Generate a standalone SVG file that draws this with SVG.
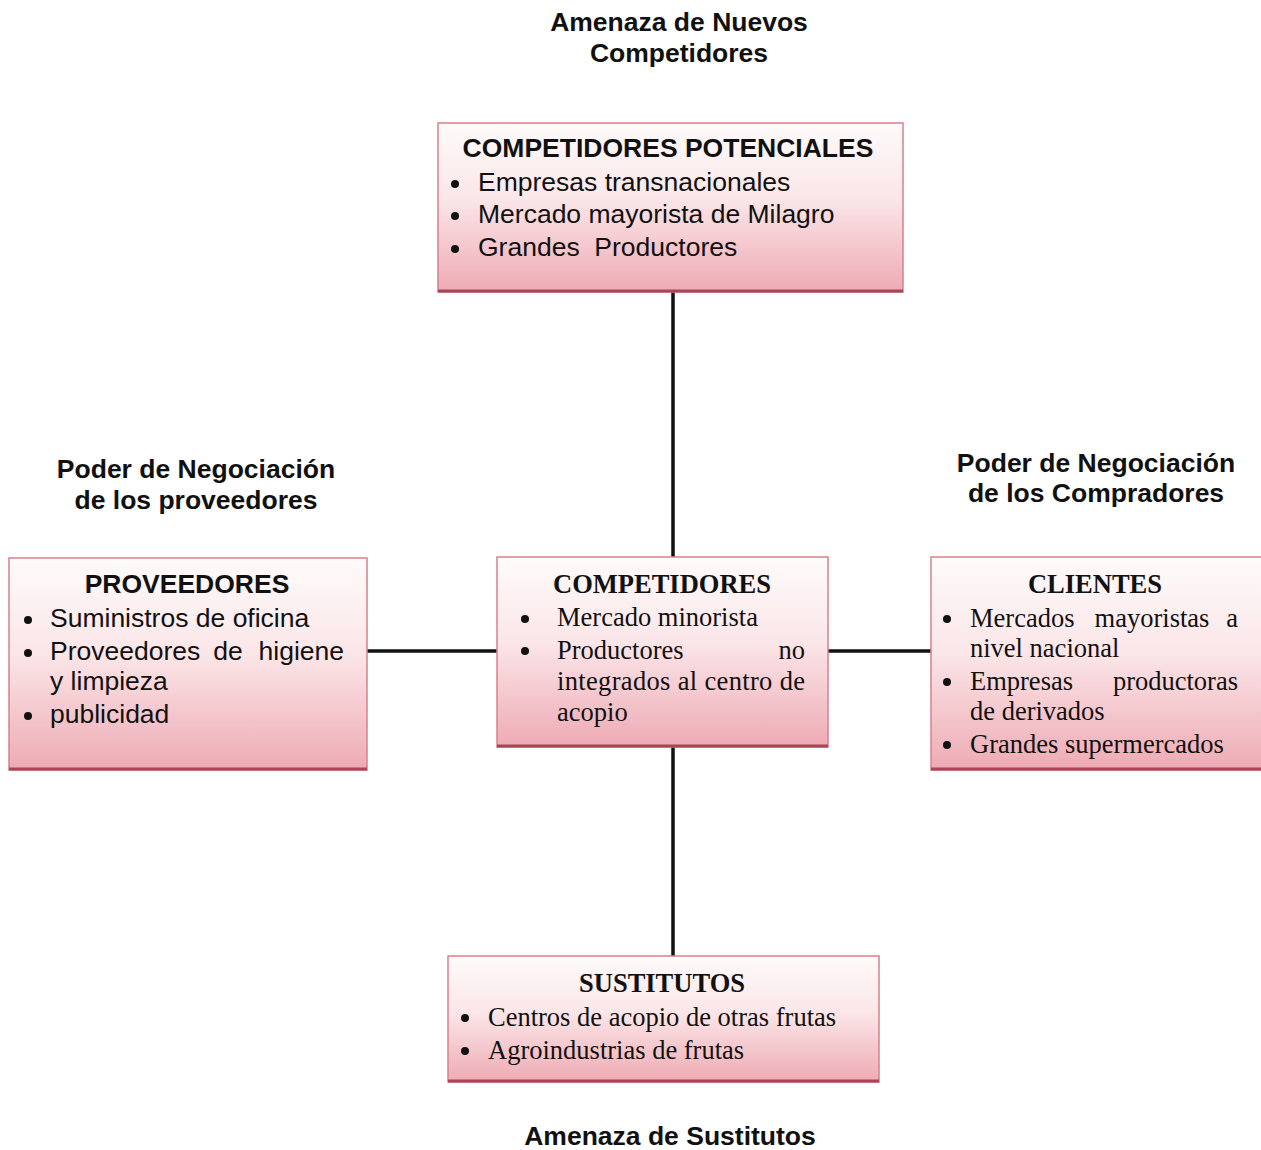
<svg xmlns="http://www.w3.org/2000/svg" width="1261" height="1150" viewBox="0 0 1261 1150">
<style>
.box{fill:url(#g);stroke:#d9808e;stroke-width:1.5}
.shadow{stroke:#a84656;stroke-width:3}
.h{font-family:"Liberation Sans",Arial,sans-serif;font-weight:bold;font-size:26.5px;fill:#111;text-anchor:middle}
.sa{font-family:"Liberation Sans",Arial,sans-serif;font-size:26.5px;fill:#111}
.sab{font-family:"Liberation Sans",Arial,sans-serif;font-size:26.5px;font-weight:bold;fill:#111;text-anchor:middle}
.t{font-family:"Liberation Serif","Times New Roman",serif;font-size:26.5px;fill:#111}
.tb{font-family:"Liberation Serif","Times New Roman",serif;font-size:26.5px;font-weight:bold;fill:#111;text-anchor:middle}
.e{text-anchor:end}
.m{text-anchor:middle}
.b{fill:#111}
.conn line{stroke:#111;stroke-width:3.5}
</style>
<defs>
<linearGradient id="g" x1="0" y1="0" x2="0" y2="1">
<stop offset="0" stop-color="#fefbfb"/>
<stop offset="0.45" stop-color="#fbe6e8"/>
<stop offset="1" stop-color="#eeaab4"/>
</linearGradient>
</defs>
<rect width="1261" height="1150" fill="#fff"/>
<g id="labels">
<text class="h" x="679" y="31">Amenaza de Nuevos</text>
<text class="h" x="679" y="62">Competidores</text>
<text class="h" x="196" y="478">Poder de Negociación</text>
<text class="h" x="196" y="509">de los proveedores</text>
<text class="h" x="1096" y="472">Poder de Negociación</text>
<text class="h" x="1096" y="502">de los Compradores</text>
<text class="h" x="670" y="1145">Amenaza de Sustitutos</text>
</g>
<g class="conn" id="connectors">
<line x1="673" y1="292" x2="673" y2="557"/>
<line x1="673" y1="747" x2="673" y2="956"/>
<line x1="367" y1="651" x2="497" y2="651"/>
<line x1="828" y1="651" x2="931" y2="651"/>
</g>
<g id="potenciales">
<rect class="box" x="438" y="123" width="465" height="169"/>
<line class="shadow" x1="438" y1="291" x2="903" y2="291"/>
<text class="sab" x="668" y="157">COMPETIDORES POTENCIALES</text>
<circle class="b" cx="455" cy="184" r="4"/><text class="sa" x="478" y="191">Empresas transnacionales</text>
<circle class="b" cx="455" cy="216" r="4"/><text class="sa" x="478" y="223">Mercado mayorista de Milagro</text>
<circle class="b" cx="455" cy="249" r="4"/><text class="sa" x="478" y="256" xml:space="preserve">Grandes  Productores</text>
</g>
<g id="proveedores">
<rect class="box" x="9" y="558" width="358" height="212"/>
<line class="shadow" x1="9" y1="769" x2="367" y2="769"/>
<text class="sab" x="187" y="593">PROVEEDORES</text>
<circle class="b" cx="28" cy="620" r="4"/><text class="sa" x="50" y="627">Suministros de oficina</text>
<circle class="b" cx="28" cy="653" r="4"/><text class="sa" x="50" y="660">Proveedores</text><text class="sa m" x="228" y="660">de</text><text class="sa e" x="344" y="660">higiene</text>
<text class="sa" x="50" y="690">y limpieza</text>
<circle class="b" cx="28" cy="716" r="4"/><text class="sa" x="50" y="723">publicidad</text>
</g>
<g id="competidores">
<rect class="box" x="497" y="557" width="331" height="190"/>
<line class="shadow" x1="497" y1="746" x2="828" y2="746"/>
<text class="tb" x="662" y="593">COMPETIDORES</text>
<circle class="b" cx="525" cy="619" r="4"/><text class="t" x="557" y="626">Mercado minorista</text>
<circle class="b" cx="525" cy="651" r="4"/><text class="t" x="557" y="659">Productores</text><text class="t e" x="805" y="659">no</text>
<text class="t" x="557" y="690" textLength="248" lengthAdjust="spacing">integrados al centro de</text>
<text class="t" x="557" y="721">acopio</text>
</g>
<g id="clientes">
<rect class="box" x="931" y="557" width="331" height="213"/>
<line class="shadow" x1="931" y1="769" x2="1261" y2="769"/>
<text class="tb" x="1095" y="593">CLIENTES</text>
<circle class="b" cx="947" cy="619" r="4"/><text class="t" x="970" y="627">Mercados</text><text class="t m" x="1152" y="627">mayoristas</text><text class="t e" x="1238" y="627">a</text>
<text class="t" x="970" y="657">nivel nacional</text>
<circle class="b" cx="947" cy="682" r="4"/><text class="t" x="970" y="690">Empresas</text><text class="t e" x="1238" y="690">productoras</text>
<text class="t" x="970" y="720">de derivados</text>
<circle class="b" cx="947" cy="745" r="4"/><text class="t" x="970" y="753">Grandes supermercados</text>
</g>
<g id="sustitutos">
<rect class="box" x="448" y="956" width="431" height="126"/>
<line class="shadow" x1="448" y1="1081" x2="879" y2="1081"/>
<text class="tb" x="662" y="992">SUSTITUTOS</text>
<circle class="b" cx="465" cy="1018" r="4"/><text class="t" x="488" y="1026">Centros de acopio de otras frutas</text>
<circle class="b" cx="465" cy="1051" r="4"/><text class="t" x="488" y="1059">Agroindustrias de frutas</text>
</g>
</svg>
